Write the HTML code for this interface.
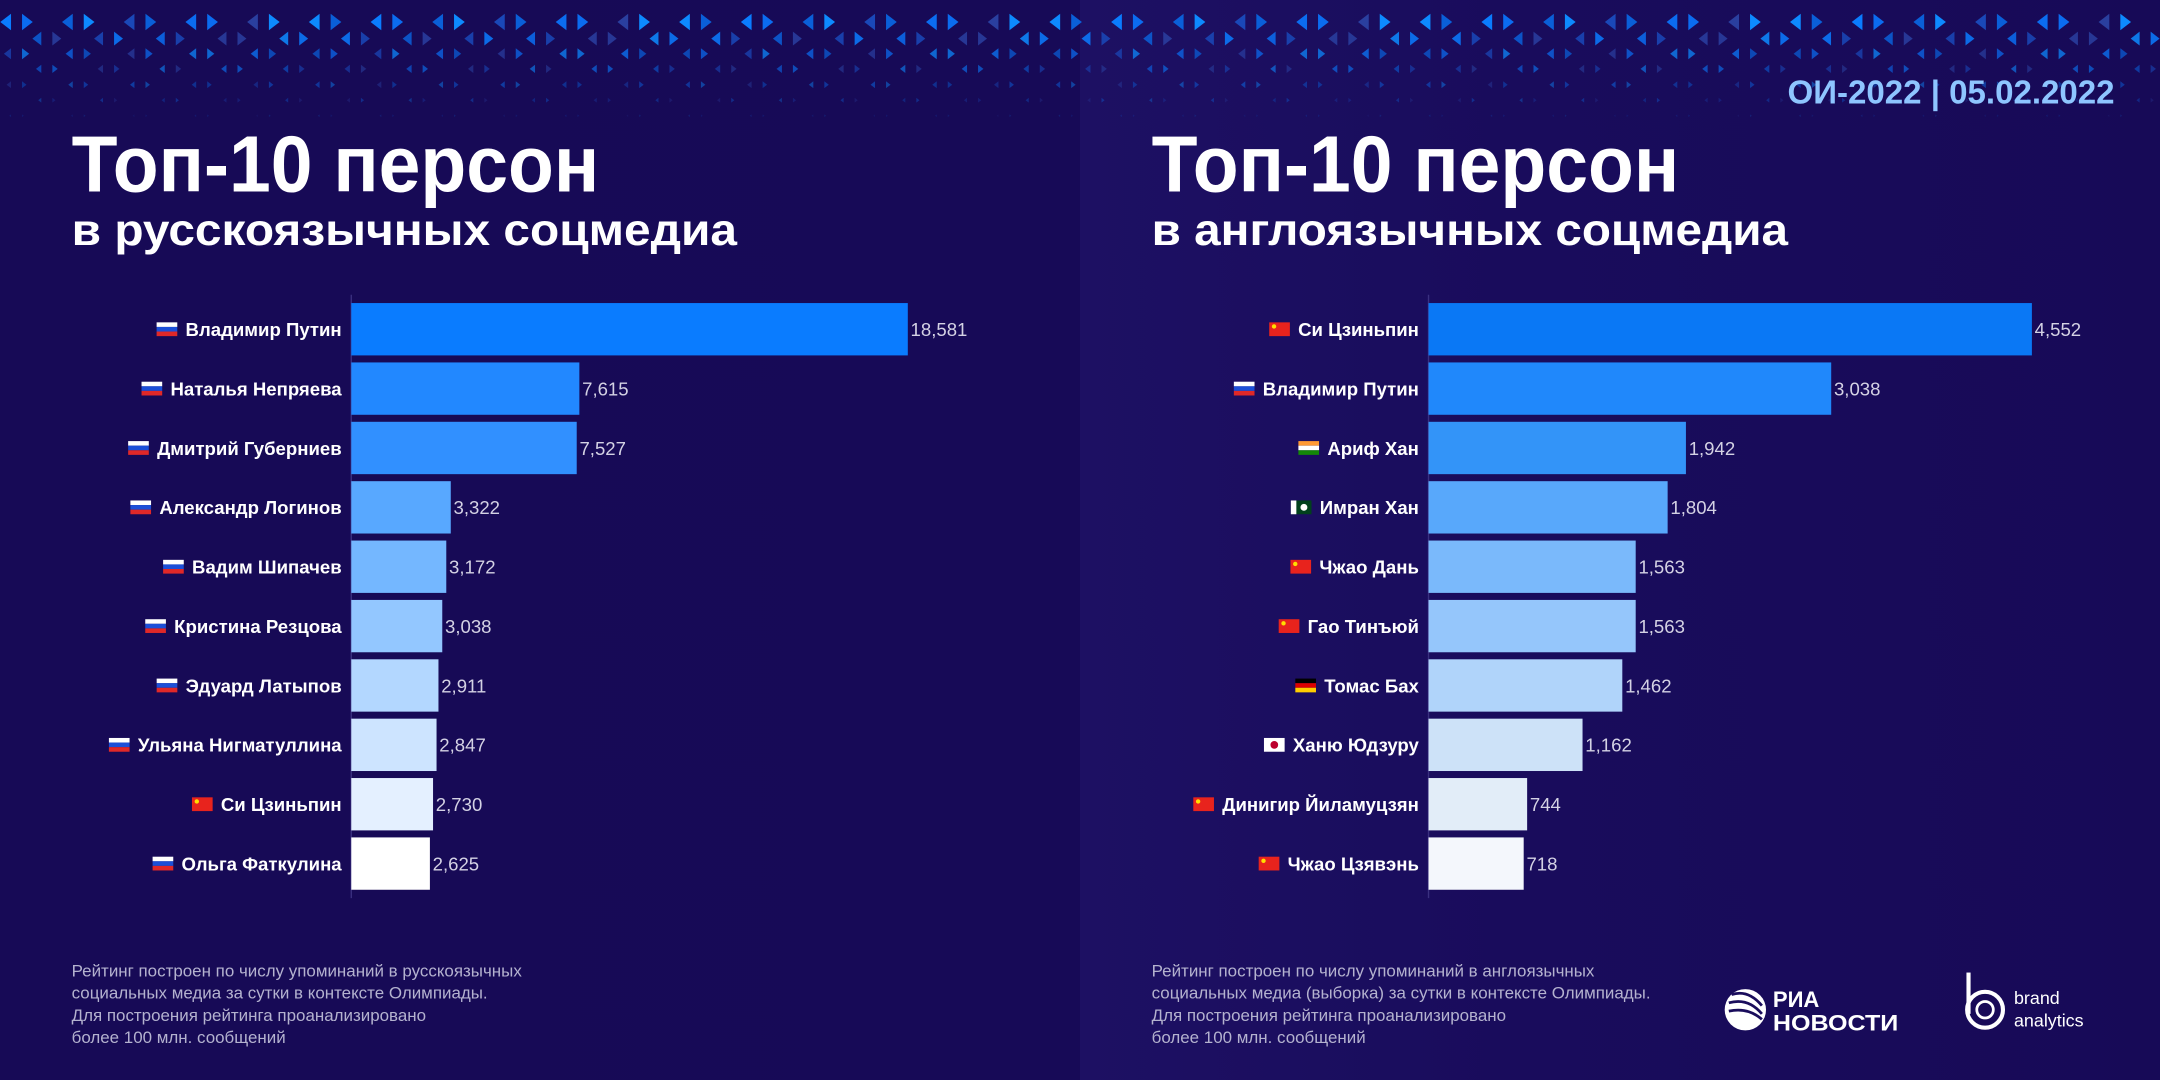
<!DOCTYPE html>
<html><head><meta charset="utf-8"><style>
html,body{margin:0;padding:0;background:#170a57;}
svg{display:block;font-family:"Liberation Sans",sans-serif;}
</style></head><body>
<svg id="root" width="2160" height="1080" viewBox="0 0 1568 784" xmlns="http://www.w3.org/2000/svg">
<defs>
<linearGradient id="bgL" x1="0" x2="1" y1="0" y2="0"><stop offset="0" stop-color="#170a56"/><stop offset="1" stop-color="#170a57"/></linearGradient>
<linearGradient id="bgR" x1="0" x2="1" y1="0" y2="0"><stop offset="0" stop-color="#1d1063"/><stop offset="0.4" stop-color="#190c5c"/><stop offset="1" stop-color="#170a57"/></linearGradient>
</defs>
<rect x="0" y="0" width="784" height="784" fill="url(#bgL)"/>
<rect x="784" y="0" width="784" height="784" fill="url(#bgR)"/>
<g id="pattern"></g>

<text x="1535" y="75" text-anchor="end" font-size="24" font-weight="bold" fill="#8ec5ff">ОИ-2022 | 05.02.2022</text>

<text x="52" y="139" font-size="58" font-weight="bold" fill="#fff" textLength="383" lengthAdjust="spacingAndGlyphs">Топ-10 персон</text>
<text x="52" y="178" font-size="32" font-weight="bold" fill="#fff" textLength="483" lengthAdjust="spacingAndGlyphs">в русскоязычных соцмедиа</text>
<text x="836" y="139" font-size="58" font-weight="bold" fill="#fff" textLength="383" lengthAdjust="spacingAndGlyphs">Топ-10 персон</text>
<text x="836" y="178" font-size="32" font-weight="bold" fill="#fff" textLength="462" lengthAdjust="spacingAndGlyphs">в англоязычных соцмедиа</text>

<g id="chartL"></g>
<g id="chartR"></g>

<g font-size="12.3" fill="#b4b2cf">
<text x="52" y="709">Рейтинг построен по числу упоминаний в русскоязычных</text>
<text x="52" y="725">социальных медиа за сутки в контексте Олимпиады.</text>
<text x="52" y="741">Для построения рейтинга проанализировано</text>
<text x="52" y="757">более 100 млн. сообщений</text>
</g>
<g font-size="12.3" fill="#b4b2cf">
<text x="836" y="709">Рейтинг построен по числу упоминаний в англоязычных</text>
<text x="836" y="725">социальных медиа (выборка) за сутки в контексте Олимпиады.</text>
<text x="836" y="741">Для построения рейтинга проанализировано</text>
<text x="836" y="757">более 100 млн. сообщений</text>
</g>

<g>
<circle cx="1267" cy="733" r="15" fill="#fff"/>
<path d="M1257 722 q12 -4 22 8 M1255 728 q14 -4 24 8 M1255 734 q14 -3 24 6" stroke="#1a0d5c" stroke-width="2" fill="none"/>
<text x="1287" y="731" font-size="16" font-weight="bold" fill="#fff">РИА</text>
<text x="1287" y="748" font-size="16" font-weight="bold" fill="#fff" textLength="91" lengthAdjust="spacingAndGlyphs">НОВОСТИ</text>
</g>
<g>
<path d="M1429 706 v30" stroke="#fff" stroke-width="3" fill="none"/>
<circle cx="1441" cy="733" r="13" stroke="#fff" stroke-width="3" fill="none"/>
<circle cx="1441" cy="733" r="6" stroke="#fff" stroke-width="2" fill="none"/>
<text x="1462" y="729" font-size="13" fill="#fff">brand</text>
<text x="1462" y="745" font-size="13" fill="#fff">analytics</text>
</g>
</svg>
<script>
const NS="http://www.w3.org/2000/svg";
const namesL=["Владимир Путин","Наталья Непряева","Дмитрий Губерниев","Александр Логинов","Вадим Шипачев","Кристина Резцова","Эдуард Латыпов","Ульяна Нигматуллина","Си Цзиньпин","Ольга Фаткулина"];
const valuesL=[18581,7615,7527,3322,3172,3038,2911,2847,2730,2625];
const flagsL=["ru","ru","ru","ru","ru","ru","ru","ru","cn","ru"];
const labelsL=["18,581","7,615","7,527","3,322","3,172","3,038","2,911","2,847","2,730","2,625"];
const namesR=["Си Цзиньпин","Владимир Путин","Ариф Хан","Имран Хан","Чжао Дань","Гао Тинъюй","Томас Бах","Ханю Юдзуру","Динигир Йиламуцзян","Чжао Цзявэнь"];
const valuesR=[4552,3038,1942,1804,1563,1563,1462,1162,744,718];
const flagsR=["cn","ru","in","pk","cn","cn","de","jp","cn","cn"];
const labelsR=["4,552","3,038","1,942","1,804","1,563","1,563","1,462","1,162","744","718"];
const colorsL=["#0a7cff","#2288ff","#3190ff","#58a8ff","#74b7ff","#93c7ff","#b3d7ff","#cde4ff","#e4f0ff","#ffffff"];
const colorsR=["#0a78f5","#2088fb","#3394f8","#58a8fb","#7ab9fb","#95c6fb","#b0d4fa","#cde2f8","#e2edf8","#f4f7fc"];

function el(tag,attrs,parent){const e=document.createElementNS(NS,tag);for(const k in attrs)e.setAttribute(k,attrs[k]);parent.appendChild(e);return e;}

const pat=document.getElementById('pattern');
const rowsY=[10,23,35,47,59,71,83];const rowsH=[12,10,8,6,5,3.5,2];
const blues=["#0a7cff","#0a5fd8","#1a48b8","#0b6cf0","#2a3f9f","#0d8aff"];
for(let r=0;r<rowsY.length;r++){
  const off=(r%2===0)?12:34;
  for(let i=0;i<36;i++){
    const cx=off+i*44.8;const h=rowsH[r];const w=h*0.65;const y=rowsY[r];
    const op=1-r*0.14;
    const c1=blues[(i+r)%blues.length],c2=blues[(i*2+r+3)%blues.length];
    const t1=el('polygon',{points:`${cx-4},${y} ${cx-4-w},${y+h/2} ${cx-4},${y+h}`,fill:c1,opacity:op},pat);
    
    
    const t2=el('polygon',{points:`${cx+4},${y} ${cx+4+w},${y+h/2} ${cx+4},${y+h}`,fill:c2,opacity:op},pat);
    
    
  }
}

function flag(g,type,x,y){
  const w=15,h=10;
  const f=el('g',{},g);
  
  
  if(type==='ru'){el('rect',{x,y,width:w,height:h/3,fill:'#fff'},f);el('rect',{x,y:y+h/3,width:w,height:h/3,fill:'#1c4fd8'},f);el('rect',{x,y:y+2*h/3,width:w,height:h/3,fill:'#e02828'},f);}
  else if(type==='cn'){el('rect',{x,y,width:w,height:h,fill:'#e8231d'},f);el('circle',{cx:x+3.5,cy:y+3,r:1.6,fill:'#ffde00'},f);}
  else if(type==='in'){el('rect',{x,y,width:w,height:h/3,fill:'#ff9933'},f);el('rect',{x,y:y+h/3,width:w,height:h/3,fill:'#fff'},f);el('rect',{x,y:y+2*h/3,width:w,height:h/3,fill:'#138808'},f);}
  else if(type==='pk'){el('rect',{x,y,width:w,height:h,fill:'#01411c'},f);el('rect',{x,y,width:4,height:h,fill:'#fff'},f);el('circle',{cx:x+9.5,cy:y+5,r:2.5,fill:'#fff'},f);}
  else if(type==='de'){el('rect',{x,y,width:w,height:h/3,fill:'#000'},f);el('rect',{x,y:y+h/3,width:w,height:h/3,fill:'#dd0000'},f);el('rect',{x,y:y+2*h/3,width:w,height:h/3,fill:'#ffce00'},f);}
  else if(type==='jp'){el('rect',{x,y,width:w,height:h,fill:'#fff'},f);el('circle',{cx:x+7.5,cy:y+5,r:2.8,fill:'#bc002d'},f);}
}

function chart(id,names,values,labels,flags,colors,x0,maxW,maxV,labelX){
  const g=document.getElementById(id);
  const xs=v=>v/maxV*maxW;
  const top=220,pitch=43.1,bh=38;
  const axis=el('line',{x1:x0,x2:x0,y1:214,y2:652,stroke:'#3a3080','stroke-width':1},g);
  
  
  for(let i=0;i<values.length;i++){
    const y=top+i*pitch;
    const b=el('rect',{x:x0,y:y,width:xs(values[i]),height:bh,fill:colors[i]},g);
    
    
    const v=el('text',{x:x0+xs(values[i])+2,y:y+bh/2+5,'font-size':13.5,fill:'#d4d2e4'},g);
    v.textContent=labels[i];
    
    
    const t=el('text',{x:labelX,y:y+bh/2+5,'text-anchor':'end','font-size':13.5,'font-weight':'bold',fill:'#fff'},g);
    t.textContent=names[i];
    
    
    const tw=t.getComputedTextLength();
    flag(g,flags[i],labelX-tw-21,y+bh/2-5);
  }
}
chart('chartL',namesL,valuesL,labelsL,flagsL,colorsL,255,404,18581,248);
chart('chartR',namesR,valuesR,labelsR,flagsR,colorsR,1037,438,4552,1030);
</script>
</body></html>
